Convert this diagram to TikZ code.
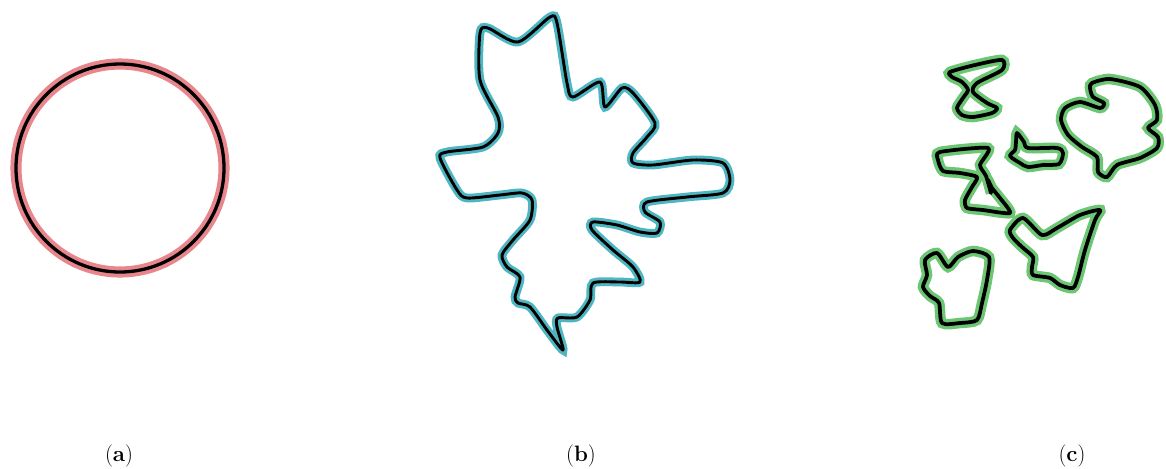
\documentclass[tikz,border=0pt]{standalone}
\usepackage{tikz}
\definecolor{Rose}{HTML}{E8868E}
\definecolor{Aqua}{HTML}{4DB6C2}
\definecolor{Leaf}{HTML}{6CC674}
\tikzset{
  ink/.style={draw=black,line width=2.8pt,line join=round},
  roseline/.style={ink,preaction={draw=Rose,line width=9.5pt}},
  aqualine/.style={ink,line width=2.5pt,preaction={draw=Aqua,line width=7.5pt}},
  leafline/.style={ink,line width=3.2pt,preaction={draw=Leaf,line width=9pt}},
  caption/.style={font=\fontsize{19}{22}\selectfont,inner sep=0pt}
}
\begin{document}
\begin{tikzpicture}[x=0.03cm,y=-0.03cm]
  \useasboundingbox (0,0) rectangle (1166,468);
  % (a) circle
  \draw[roseline] (120,168) circle[radius=104];
  % (b) single blob
  \draw[aqualine] plot[smooth cycle,tension=0.45] coordinates {
    (488,28) (518,42) (550,17) (557,23) (567,83) (573,97) (600,82) (605,107)
    (622,88) (633,93) (655,123) (647,137) (633,153) (633,163) (653,165)
    (693,160) (723,163) (730,180) (723,193) (687,197) (647,202) (645,212)
    (660,222) (657,233) (640,232) (617,225) (593,222) (592,230) (613,250)
    (633,267) (640,282) (620,282) (593,283) (590,300) (577,317) (558,318)
    (557,327) (563,350) (547,330) (530,307) (518,303) (515,297) (520,277)
    (507,267) (502,255) (513,240) (530,220) (532,200) (522,193) (500,195)
    (467,198) (457,190) (440,158) (447,152) (483,147) (498,133) (498,117)
    (480,80) (480,33)};
  % (c) scattered blobs
  \draw[leafline] plot[smooth cycle,tension=0.45] coordinates {
    (950,72) (975,65) (1002,60) (1002,70) (977,83) (973,92) (987,103)
    (997,108) (992,113) (973,117) (962,115) (957,108) (963,98) (968,90)
    (962,82) (952,77)};
  \draw[leafline] plot[smooth cycle,tension=0.45] coordinates {
    (1092,83) (1110,79) (1140,87) (1155,105) (1157,120) (1148,128) (1158,137)
    (1157,148) (1140,158) (1117,165) (1107,177) (1098,172) (1097,157)
    (1082,147) (1068,135) (1061,120) (1065,108) (1080,102) (1100,108)
    (1104,103) (1093,97) (1090,88)};
  \draw[leafline] plot[smooth cycle,tension=0.45] coordinates {
    (1017,133) (1024,142) (1028,148) (1057,148) (1063,153) (1059,164)
    (1043,165) (1028,167) (1020,163) (1010,156) (1015,150) (1016,142)};
  \draw[leafline] plot[smooth cycle,tension=0.4] coordinates {
    (940,152) (988,148) (980,165) (986,176) (991,193) (988,180) (992,188)
    (1000,198) (1010,213) (983,210) (967,208) (965,200) (972,187) (977,177)
    (960,173) (943,171) (938,160)};
  \draw[leafline] plot[smooth cycle,tension=0.45] coordinates {
    (1010,230) (1023,218) (1042,235) (1057,228) (1080,215) (1100,210)
    (1095,220) (1085,250) (1078,277) (1073,288) (1060,285) (1050,278)
    (1033,275) (1032,267) (1033,257) (1022,247) (1013,238)};
  \draw[leafline] plot[smooth cycle,tension=0.45] coordinates {
    (925,260) (937,253) (948,267) (958,257) (973,251) (989,257) (987,280)
    (982,303) (977,320) (960,323) (942,323) (939,303) (930,296) (923,287)
    (927,275)};
  % captions
  \node[caption] (capa) at (119,456) {(\textbf{a})};
  \node[caption] (capb) at (581,456) {(\textbf{b})};
  \node[caption] (capc) at (1072,456) {(\textbf{c})};
\end{tikzpicture}
\end{document}
